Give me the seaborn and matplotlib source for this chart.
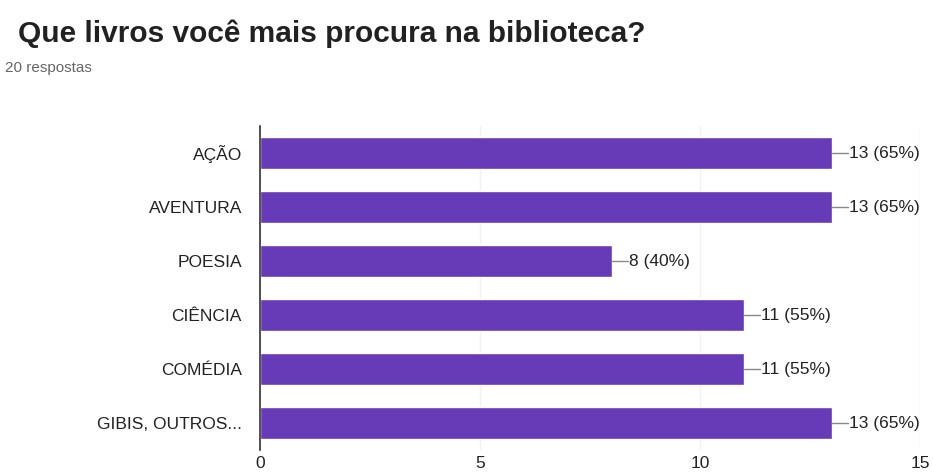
import matplotlib
matplotlib.use("Agg")
import matplotlib.pyplot as plt
import seaborn as sns
import pandas as pd

# data
categorias = ["AÇÃO", "AVENTURA", "POESIA", "CIÊNCIA", "COMÉDIA", "GIBIS, OUTROS..."]
respostas = [13, 13, 8, 11, 11, 13]
total = 20
ticks_x = [0, 5, 10, 15]

sns.set_theme(style="white")
plt.rcParams['font.family'] = ['Liberation Sans', 'DejaVu Sans']

df = pd.DataFrame({'categoria': categorias, 'n': respostas})

fig = plt.figure(figsize=(9.33, 4.75), dpi=100)
ax = fig.add_axes([0.2787, 0.0526, 0.7073, 0.6821])

sns.barplot(data=df, x='n', y='categoria', orient='h', color='#673ab7',
            saturation=1, width=0.6, ax=ax)

ax.set_xlim(0, 15)
ax.set_ylim(5.5, -0.5)
ax.set_xticks(ticks_x)
ax.set_xlabel('')
ax.set_ylabel('')
ax.grid(axis='x', color='#f2f2f2', linewidth=1)
ax.set_axisbelow(True)
for s in ['top', 'right', 'bottom']:
    ax.spines[s].set_visible(False)
ax.spines['left'].set_color('#333333')
ax.spines['left'].set_linewidth(1.2)
ax.tick_params(axis='x', length=0, labelsize=12.5, labelcolor='#222222', pad=4)
ax.tick_params(axis='y', length=0, labelsize=12.5, labelcolor='#222222', pad=13)

# value labels with small leader line
for i, v in enumerate(respostas):
    ax.plot([v, v + 0.36], [i, i], color='#888888', linewidth=1)
    ax.text(v + 0.38, i, f"{v} ({v * 100 // total}%)", va='center', ha='left',
            fontsize=12.5, color='#222222')

fig.text(0.019, 0.93, "Que livros você mais procura na biblioteca?",
         fontsize=21.5, fontweight='bold', color='#212121', va='center')
fig.text(0.005, 0.857, "20 respostas", fontsize=11, color='#666666', va='center')

fig.savefig('out.png', dpi=100)
